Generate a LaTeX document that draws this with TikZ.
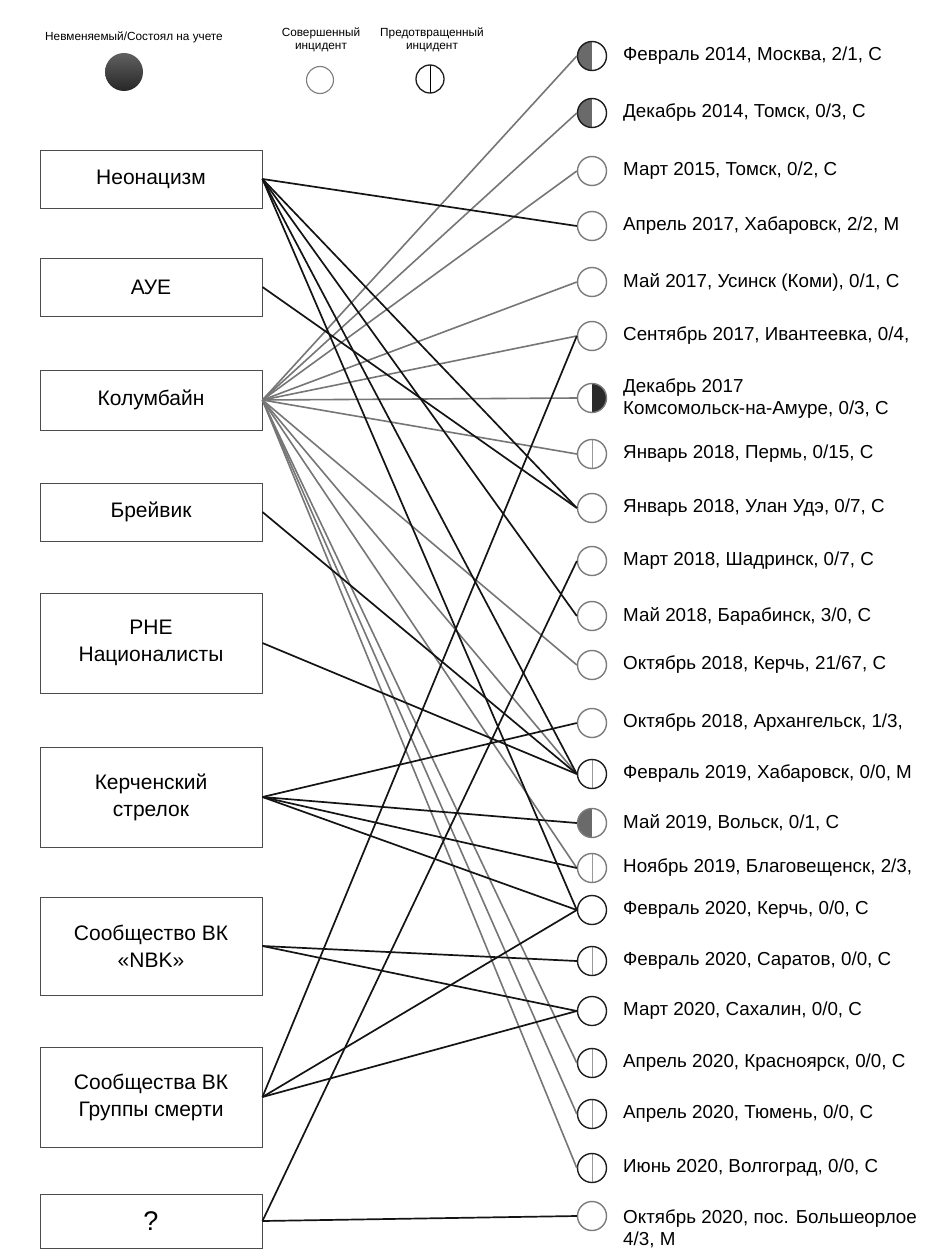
\documentclass[tikz,border=0pt]{standalone}
\usepackage{fontspec}
\setmainfont{Liberation Sans}
\usetikzlibrary{shapes.geometric}
\definecolor{gline}{HTML}{767676}
\definecolor{bline}{HTML}{141414}
\definecolor{ringg}{HTML}{7C7C7C}
\definecolor{ringb}{HTML}{1E1E1E}
\definecolor{halfg}{HTML}{6A6A6A}
\definecolor{halfd}{HTML}{2A2A2A}
\begin{document}
\begin{tikzpicture}[x=1pt,y=-1pt,
  box/.style={draw=black!70, line width=0.9pt, minimum width=222pt, inner sep=0pt, align=center, font=\fontsize{21}{27}\selectfont},
  ev/.style={circle, minimum size=29pt, inner sep=0pt, line width=1.4pt},
  evg/.style={ev, draw=ringg},
  evb/.style={ev, draw=ringb},
  prev/.style={path picture={\draw[line width=0.8pt, black!40] (path picture bounding box.north) -- (path picture bounding box.south);}},
  halfl/.style={path picture={\fill[halfg] (path picture bounding box.north west) rectangle (path picture bounding box.south);}},
  halfr/.style={path picture={\fill[halfd] (path picture bounding box.north) rectangle (path picture bounding box.south east);}},
  lbl/.style={anchor=west, inner sep=0pt, font=\fontsize{18.8}{22}\selectfont, align=left},
  bl/.style={draw=bline, line width=1.7pt},
  gl/.style={draw=gline, line width=1.6pt},
  leg/.style={font=\fontsize{11.8}{13}\selectfont, align=center, inner sep=0pt}
]
\useasboundingbox[fill=white] (0,0) rectangle (932,1252);

% legend
\node[leg] (legA) at (134,37) {Невменяемый/Состоял на учете};
\node[circle, minimum size=38pt, inner sep=0pt, top color=black!62, bottom color=black!85] (legAc) at (124,72) {};
\node[leg] (legB) at (321,40) {Совершенный\\инцидент};
\node[evg, minimum size=27pt, line width=1.1pt] (legBc) at (320,80) {};
\node[leg] (legC) at (432,40) {Предотвращенный\\инцидент};
\node[ev, draw=ringb, minimum size=28pt, line width=1.3pt, path picture={\draw[line width=0.9pt, black] (path picture bounding box.north) -- (path picture bounding box.south);}] (legCc) at (430,79) {};

% boxes
\node[box, minimum height=58pt] (neo) at (151,179) {Неонацизм};
\node[box, minimum height=58pt] (aue) at (151,287) {АУЕ};
\node[box, minimum height=60pt] (kol) at (151,400) {Колумбайн};
\node[box, minimum height=58pt] (bre) at (151,512) {Брейвик};
\node[box, minimum height=100pt] (rne) at (151,643) {РНЕ\\Националисты};
\node[box, minimum height=100pt] (ker) at (151,797) {Керченский\\стрелок};
\node[box, minimum height=98pt] (nbk) at (151,946) {Сообщество ВК\\«NBK»};
\node[box, minimum height=100pt] (gs) at (151,1097) {Сообщества ВК\\Группы смерти};
\node[box, minimum height=54pt, font=\fontsize{27}{30}\selectfont] (q) at (151,1221) {?};

% events
\node[evb, halfl] (c1) at (592,56) {};
\node[evb, halfl] (c2) at (592,113) {};
\node[evg] (c3) at (592,171) {};
\node[evg] (c4) at (592,226) {};
\node[evg] (c5) at (592,282) {};
\node[evg] (c6) at (592,336) {};
\node[evg, halfr] (c7) at (592,398) {};
\node[evg, prev] (c8) at (592,454) {};
\node[evg] (c9) at (592,508) {};
\node[evg] (c10) at (592,561) {};
\node[evg] (c11) at (592,616) {};
\node[evg] (c12) at (592,665) {};
\node[evg] (c13) at (592,723) {};
\node[evb, prev] (c14) at (592,774) {};
\node[evg, halfl] (c15) at (592,823) {};
\node[evg, prev] (c16) at (592,868) {};
\node[evb] (c17) at (592,910) {};
\node[evb, prev] (c18) at (592,961) {};
\node[evb] (c19) at (592,1011) {};
\node[evb, prev] (c20) at (592,1063) {};
\node[evb, prev] (c21) at (592,1114) {};
\node[evb, prev] (c22) at (592,1168) {};
\node[evg] (c23) at (592,1216) {};

% labels
\node[lbl] (t1) at (623,56) {Февраль 2014, Москва, 2/1, С};
\node[lbl] (t2) at (623,113) {Декабрь 2014, Томск, 0/3, С};
\node[lbl] (t3) at (623,171) {Март 2015, Томск, 0/2, С};
\node[lbl] (t4) at (623,226) {Апрель 2017, Хабаровск, 2/2, М};
\node[lbl] (t5) at (623,282) {Май 2017, Усинск (Коми), 0/1, С};
\node[lbl] (t6) at (623,336) {Сентябрь 2017, Ивантеевка, 0/4,};
\node[lbl] (t7) at (623,399) {Декабрь 2017\\Комсомольск-на-Амуре, 0/3, С};
\node[lbl] (t8) at (623,454) {Январь 2018, Пермь, 0/15, С};
\node[lbl] (t9) at (623,508) {Январь 2018, Улан Удэ, 0/7, С};
\node[lbl] (t10) at (623,561) {Март 2018, Шадринск, 0/7, С};
\node[lbl] (t11) at (623,616) {Май 2018, Барабинск, 3/0, С};
\node[lbl] (t12) at (623,665) {Октябрь 2018, Керчь, 21/67, С};
\node[lbl] (t13) at (623,723) {Октябрь 2018, Архангельск, 1/3,};
\node[lbl] (t14) at (623,774) {Февраль 2019, Хабаровск, 0/0, М};
\node[lbl] (t15) at (623,823) {Май 2019, Вольск, 0/1, С};
\node[lbl] (t16) at (623,868) {Ноябрь 2019, Благовещенск, 2/3,};
\node[lbl] (t17) at (623,910) {Февраль 2020, Керчь, 0/0, С};
\node[lbl] (t18) at (623,961) {Февраль 2020, Саратов, 0/0, С};
\node[lbl] (t19) at (623,1011) {Март 2020, Сахалин, 0/0, С};
\node[lbl] (t20) at (623,1063) {Апрель 2020, Красноярск, 0/0, С};
\node[lbl] (t21) at (623,1114) {Апрель 2020, Тюмень, 0/0, С};
\node[lbl] (t22) at (623,1168) {Июнь 2020, Волгоград, 0/0, С};
\node[lbl] (t23) at (623,1229) {Октябрь 2020, пос. Большеорлое\\4/3, М};

% Columbine (gray)
\foreach \c in {c1,c2,c3,c5,c6,c7,c8,c12,c14,c16,c20,c21,c22}
  \draw[gl] (kol.east) -- (\c.west);
% black connectors
\foreach \c in {c4,c9,c11,c14,c17}
  \draw[bl] (neo.east) -- (\c.west);
\draw[bl] (aue.east) -- (c9.west);
\draw[bl] (bre.east) -- (c14.west);
\draw[bl] (rne.east) -- (c14.west);
\foreach \c in {c13,c15,c16,c17}
  \draw[bl] (ker.east) -- (\c.west);
\draw[bl] (nbk.east) -- (c18.west);
\draw[bl] (nbk.east) -- (c19.west);
\foreach \c in {c6,c17,c19}
  \draw[bl] (gs.east) -- (\c.west);
\draw[bl] (q.east) -- (c10.west);
\draw[bl] (q.east) -- (c23.west);
\end{tikzpicture}
\end{document}
